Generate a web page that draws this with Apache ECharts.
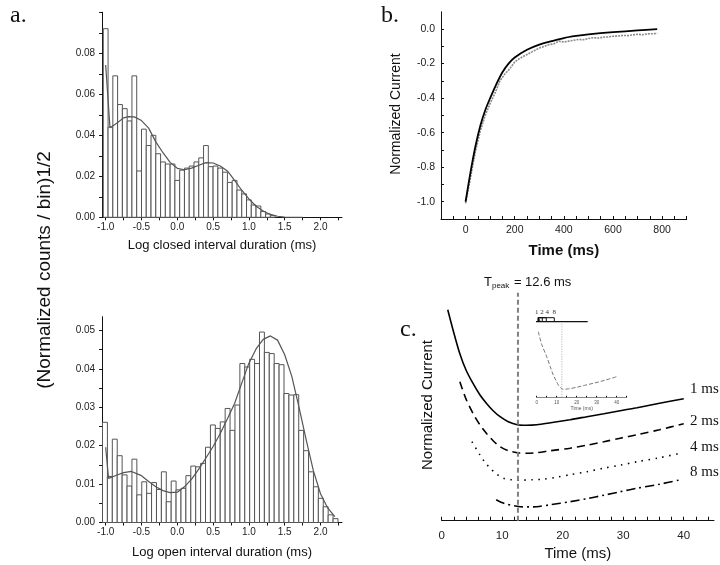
<!DOCTYPE html>
<html>
<head>
<meta charset="utf-8">
<script src="https://cdn.jsdelivr.net/npm/echarts@6/dist/echarts.min.js"></script>
<style>
  html, body { margin: 0; padding: 0; background: #fff; }
  #main { width: 720px; height: 565px; }
</style>
</head>
<body>
<div id="main"></div>
<script>
// ---- panel a: dwell-time histograms (log bins, first bin centred at about -1.0)
const closedBinStart = -1.0;
const closedBinWidth = 1 / 15;
const closedCounts = [0.092, 0.044, 0.069, 0.055, 0.053, 0.047, 0.069, 0.0226, 0.043, 0.035,
  0.040, 0.031, 0.027, 0.026, 0.026, 0.018, 0.023, 0.024, 0.025, 0.027,
  0.029, 0.035, 0.0247, 0.025, 0.024, 0.022, 0.017, 0.018, 0.0133, 0.0114,
  0.0085, 0.006, 0.0055, 0.0028, 0.0016, 0.0008];
const closedFit = [[-1.0, 0.0743], [-0.94, 0.0437], [-0.85, 0.0458], [-0.75, 0.0485], [-0.68, 0.0491],
  [-0.6, 0.049], [-0.5, 0.0472], [-0.4, 0.0435], [-0.3, 0.0368], [-0.2, 0.0315], [-0.1, 0.0268],
  [0.0, 0.0239], [0.1, 0.0232], [0.2, 0.024], [0.3, 0.0254], [0.4, 0.0267], [0.5, 0.0265],
  [0.6, 0.025], [0.7, 0.0226], [0.8, 0.018], [0.9, 0.0132], [1.0, 0.009], [1.1, 0.0054],
  [1.2, 0.0031], [1.3, 0.0014], [1.4, 0.0005], [1.5, 0.0001], [1.75, 0]];

const openBinStart = -1.01;
const openBinWidth = 0.0685;
const openCounts = [0.0261, 0.012, 0.0217, 0.0174, 0.0124, 0.0095, 0.0165, 0.0072, 0.0106, 0.0076,
  0.0104, 0.0086, 0.0132, 0.0054, 0.0108, 0.0085, 0.0089, 0.0122, 0.0147, 0.0145,
  0.0154, 0.0196, 0.0254, 0.0245, 0.0262, 0.0297, 0.024, 0.0306, 0.0414, 0.0405,
  0.0425, 0.0414, 0.0496, 0.0443, 0.044, 0.0414, 0.0411, 0.0336, 0.0332, 0.0333,
  0.024, 0.0187, 0.0132, 0.0093, 0.0063, 0.0041, 0.002, 0.001];
const openFit = [[-1.0, 0.0196], [-0.96, 0.0115], [-0.85, 0.0123], [-0.75, 0.013], [-0.64, 0.0133],
  [-0.5, 0.0122], [-0.4, 0.0107], [-0.3, 0.0093], [-0.2, 0.0083], [-0.1, 0.0078], [0.0, 0.0079],
  [0.1, 0.0093], [0.2, 0.0113], [0.3, 0.0139], [0.4, 0.0168], [0.5, 0.0198], [0.6, 0.0232],
  [0.7, 0.027], [0.8, 0.031], [0.9, 0.0363], [1.0, 0.0415], [1.1, 0.0452], [1.2, 0.0477],
  [1.3, 0.0486], [1.4, 0.0475], [1.5, 0.0437], [1.6, 0.038], [1.7, 0.030], [1.8, 0.0215],
  [1.9, 0.0135], [2.0, 0.0075], [2.1, 0.0038], [2.2, 0.0015]];

const logTicks = [-1, -0.75, -0.5, -0.25, 0, 0.25, 0.5, 0.75, 1, 1.25, 1.5, 1.75, 2, 2.25];
const logLabels = [-1, -0.5, 0, 0.5, 1, 1.5, 2];
const closedYTicks = [0, 0.01, 0.02, 0.03, 0.04, 0.05, 0.06, 0.07, 0.08, 0.09, 0.1];
const closedYLabels = [0, 0.02, 0.04, 0.06, 0.08];
const openYTicks = [0, 0.005, 0.01, 0.015, 0.02, 0.025, 0.03, 0.035, 0.04, 0.045, 0.05];
const openYLabels = [0, 0.01, 0.02, 0.03, 0.04, 0.05];

// ---- panel b: current relaxation, fit and recorded trace
const fitB = [[0, -1.0], [20, -0.83], [40, -0.68], [60, -0.56], [80, -0.47], [100, -0.40],
  [125, -0.32], [150, -0.25], [175, -0.20], [200, -0.165], [250, -0.12], [300, -0.09],
  [350, -0.07], [400, -0.052], [450, -0.04], [500, -0.031], [600, -0.018], [700, -0.008], [780, 0.0]];
const traceB = [[0, -1.01], [20, -0.86], [40, -0.71], [60, -0.59], [80, -0.50], [100, -0.43],
  [120, -0.37], [140, -0.30], [160, -0.26], [180, -0.23], [200, -0.19], [220, -0.17],
  [240, -0.155], [260, -0.14], [280, -0.125], [300, -0.11], [320, -0.10], [340, -0.09],
  [360, -0.085], [380, -0.07], [400, -0.075], [420, -0.07], [440, -0.065], [460, -0.06],
  [480, -0.062], [500, -0.055], [520, -0.05], [540, -0.052], [560, -0.047], [580, -0.045],
  [600, -0.042], [620, -0.04], [640, -0.037], [660, -0.038], [680, -0.034], [700, -0.03],
  [720, -0.033], [740, -0.028], [760, -0.027], [780, -0.025]];
const bXTicks = [-100, -50, 0, 50, 100, 150, 200, 250, 300, 350, 400, 450, 500, 550, 600, 650, 700, 750, 800, 850, 900];
const bXLabels = [0, 200, 400, 600, 800];
const bYTicks = [-1.0, -0.9, -0.8, -0.7, -0.6, -0.5, -0.4, -0.3, -0.2, -0.1, 0.0];
const bYLabels = [-1.0, -0.8, -0.6, -0.4, -0.2, 0.0];

// ---- panel c: responses to 1, 2, 4, 8 ms pulses (arbitrary current units)
const tPeak = 12.6;
const resp1 = [[1.0, 21.1], [2.0, 18.8], [3.0, 16.7], [4.0, 15.1], [5.2, 13.7], [6.3, 12.6], [7.45, 11.7],
  [8.5, 11.0], [9.65, 10.4], [11, 9.9], [12.5, 9.6], [14, 9.55], [15.7, 9.6], [18, 9.8],
  [21.2, 10.1], [24, 10.4], [26.8, 10.7], [29.5, 11.0], [32.3, 11.3], [36, 11.75], [40, 12.2]];
const resp2 = [[3.0, 13.9], [4.0, 12.2], [5.2, 10.7], [6.3, 9.6], [7.45, 8.7], [8.5, 8.0], [9.65, 7.4],
  [11, 7.0], [12.5, 6.8], [14, 6.75], [15.7, 6.8], [18, 7.0], [21.2, 7.25], [24, 7.55],
  [26.8, 7.9], [29.5, 8.25], [32.3, 8.6], [36, 9.1], [40, 9.7]];
const resp4 = [[5.0, 7.9], [6.3, 6.6], [7.2, 5.8], [8.0, 5.25], [9.0, 4.7], [10.2, 4.25], [11.5, 4.1],
  [13.0, 4.05], [15, 4.1], [16.8, 4.15], [19, 4.35], [21.2, 4.6], [24, 4.9], [26.8, 5.25],
  [29.5, 5.55], [32.3, 5.9], [36, 6.3], [39.5, 6.75]];
const resp8 = [[9.0, 2.1], [9.8, 1.85], [10.8, 1.65], [12, 1.5], [13, 1.4], [14.5, 1.38], [15.7, 1.4],
  [18, 1.6], [21.2, 1.9], [24, 2.2], [26.8, 2.55], [29.5, 2.9], [32.3, 3.25], [36, 3.65], [39.5, 4.1]];
const respNames = ['1 ms', '2 ms', '4 ms', '8 ms'];
const cXTicks = [0, 2, 4, 6, 8, 10, 12, 14, 16, 18, 20, 22, 24, 26, 28, 30, 32, 34, 36, 38, 40, 42, 44];
const cXLabels = [0, 10, 20, 30, 40];

// inset: stimulus pulses and averaged trace
const pulseOnset = 0.8;
const pulseDurations = [1, 2, 4, 8];
const insetTrace = [[0.8, 6.56], [2.5, 5.3], [5, 4.06], [6.7, 3.1], [8.3, 2.23], [10, 1.55], [10.8, 1.23],
  [12, 0.95], [13.3, 0.8], [16, 0.85], [20, 1.0], [24, 1.2], [28.3, 1.4], [34, 1.7], [40, 2.06]];
const insetTicks = [0, 5, 10, 15, 20, 25, 30, 35, 40, 45];
const insetLabels = [0, 10, 20, 30, 40];

const sans = 'Liberation Sans, Arial, sans-serif';
const serif = 'Liberation Serif, Times New Roman, serif';

function bins(start, width, counts) {
  return counts.map((v, k) => [start + k * width, v]);
}

function histBar(width) {
  return function (params, api) {
    const x = api.value(0);
    const top = api.coord([x - width / 2, api.value(1)]);
    const base = api.coord([x + width / 2, 0]);
    return {
      type: 'rect',
      shape: { x: top[0], y: top[1], width: base[0] - top[0], height: base[1] - top[1] },
      style: { fill: '#fff', stroke: '#555', lineWidth: 1 }
    };
  };
}

function fmt(d) {
  return v => (Math.abs(v) < 1e-9 ? 0 : v).toFixed(d);
}

function valAxis(grid, min, max, ticks, labels, extra) {
  return Object.assign({
    type: 'value', gridIndex: grid, min: min, max: max,
    splitLine: { show: false },
    axisLine: { show: true, onZero: false, lineStyle: { color: '#111', width: 1 } },
    axisTick: { show: true, customValues: ticks, length: 3, lineStyle: { color: '#111' } },
    axisLabel: { customValues: labels, color: '#222', fontFamily: sans, fontSize: 10 }
  }, extra || {});
}

const chart = echarts.init(document.getElementById('main'));

const pulseSeries = pulseDurations.map(d => ({
  type: 'line', xAxisIndex: 4, yAxisIndex: 4, symbol: 'none', silent: true, clip: false,
  lineStyle: { color: '#111', width: 1 },
  data: [[pulseOnset, 7.56], [pulseOnset, 7.96], [pulseOnset + d, 7.96], [pulseOnset + d, 7.56]]
}));

chart.setOption({
  animation: false,
  grid: [
    { left: 102.1, top: 12.3, width: 239.9, height: 205 },
    { left: 102.1, top: 316.7, width: 239.9, height: 205.8 },
    { left: 441, top: 11.8, width: 245.7, height: 207.2 },
    { left: 441.7, top: 280.7, width: 272.3, height: 240 },
    { left: 536.7, top: 310, width: 90, height: 87.3 }
  ],
  xAxis: [
    valAxis(0, -1.05, 2.3, logTicks, logLabels, {
      name: 'Log closed interval duration (ms)', nameLocation: 'middle', nameGap: 22,
      nameTextStyle: { fontFamily: sans, fontSize: 13, color: '#111' }
    }),
    valAxis(1, -1.05, 2.3, logTicks, logLabels, {
      name: 'Log open interval duration (ms)', nameLocation: 'middle', nameGap: 23,
      nameTextStyle: { fontFamily: sans, fontSize: 13, color: '#111' }
    }),
    valAxis(2, -100, 900, bXTicks, bXLabels, {
      name: 'Time (ms)', nameLocation: 'middle', nameGap: 24,
      nameTextStyle: { fontFamily: sans, fontSize: 15, fontWeight: 'bold', color: '#111' }
    }),
    valAxis(3, 0, 45, cXTicks, cXLabels, {
      name: 'Time (ms)', nameLocation: 'middle', nameGap: 26,
      nameTextStyle: { fontFamily: sans, fontSize: 15, color: '#111' }
    }),
    valAxis(4, 0, 45, insetTicks, insetLabels, {
      name: 'Time (ms)', nameLocation: 'middle', nameGap: 7,
      nameTextStyle: { fontFamily: sans, fontSize: 5, color: '#555' }
    })
  ],
  yAxis: [
    valAxis(0, 0, 0.1, closedYTicks, closedYLabels),
    valAxis(1, 0, 0.0536, openYTicks, openYLabels),
    valAxis(2, -1.1, 0.1, bYTicks, bYLabels),
    valAxis(3, 0, 24, [], [], { show: false }),
    valAxis(4, 0, 8.73, [], [], { show: false })
  ],
  series: [
    { type: 'custom', xAxisIndex: 0, yAxisIndex: 0, renderItem: histBar(closedBinWidth),
      data: bins(closedBinStart, closedBinWidth, closedCounts) },
    { type: 'line', xAxisIndex: 0, yAxisIndex: 0, data: closedFit, symbol: 'none', z: 5,
      lineStyle: { color: '#555', width: 1.2 } },
    { type: 'custom', xAxisIndex: 1, yAxisIndex: 1, renderItem: histBar(openBinWidth),
      data: bins(openBinStart, openBinWidth, openCounts) },
    { type: 'line', xAxisIndex: 1, yAxisIndex: 1, data: openFit, symbol: 'none', z: 5,
      lineStyle: { color: '#555', width: 1.2 } },
    { type: 'line', xAxisIndex: 2, yAxisIndex: 2, data: traceB, symbol: 'none',
      lineStyle: { color: '#8a8a8a', width: 1.6, type: [2, 1] } },
    { type: 'line', xAxisIndex: 2, yAxisIndex: 2, data: fitB, symbol: 'none', smooth: 0.3, z: 5,
      lineStyle: { color: '#000', width: 1.8 } },
    { name: respNames[0], type: 'line', xAxisIndex: 3, yAxisIndex: 3, data: resp1, symbol: 'none', smooth: 0.3,
      lineStyle: { color: '#000', width: 1.6 } },
    { name: respNames[1], type: 'line', xAxisIndex: 3, yAxisIndex: 3, data: resp2, symbol: 'none', smooth: 0.3,
      lineStyle: { color: '#000', width: 1.6, type: [8, 5] } },
    { name: respNames[2], type: 'line', xAxisIndex: 3, yAxisIndex: 3, data: resp4, symbol: 'none', smooth: 0.3,
      lineStyle: { color: '#000', width: 1.6, type: [1.5, 5.5] } },
    { name: respNames[3], type: 'line', xAxisIndex: 3, yAxisIndex: 3, data: resp8, symbol: 'none', smooth: 0.3,
      lineStyle: { color: '#000', width: 1.6, type: [9, 4, 2, 4] } },
    { type: 'line', xAxisIndex: 3, yAxisIndex: 3, data: [[tPeak, 0], [tPeak, 22.8]], symbol: 'none', z: 6,
      lineStyle: { color: '#808080', width: 2, type: [5, 3] } },
    { type: 'line', xAxisIndex: 4, yAxisIndex: 4, data: insetTrace, symbol: 'none', smooth: 0.3,
      lineStyle: { color: '#777', width: 1, type: [4, 2] } },
    { type: 'line', xAxisIndex: 4, yAxisIndex: 4, data: [[tPeak, 0], [tPeak, 7.43]], symbol: 'none',
      lineStyle: { color: '#999', width: 0.8, type: [1, 1.5] } },
    { type: 'line', xAxisIndex: 4, yAxisIndex: 4, data: [[-1.3, 7.56], [25.5, 7.56]], symbol: 'none', clip: false,
      lineStyle: { color: '#111', width: 1.2 } }
  ].concat(pulseSeries),
  graphic: [
    { type: 'text', x: 10, y: 4, style: { text: 'a.', fontFamily: serif, fontSize: 24, fill: '#111' } },
    { type: 'text', x: 381, y: 4, style: { text: 'b.', fontFamily: serif, fontSize: 24, fill: '#111' } },
    { type: 'text', x: 400, y: 318, style: { text: 'c.', fontFamily: serif, fontSize: 24, fill: '#111' } },
    { type: 'text', x: 45, y: 270, rotation: Math.PI / 2,
      style: { text: '(Normalized counts / bin)1/2', fontFamily: sans, fontSize: 19, fill: '#111',
        align: 'center', verticalAlign: 'middle' } },
    { type: 'text', x: 396, y: 114, rotation: Math.PI / 2,
      style: { text: 'Normalized Current', fontFamily: sans, fontSize: 14, fill: '#111',
        align: 'center', verticalAlign: 'middle' } },
    { type: 'text', x: 428, y: 405, rotation: Math.PI / 2,
      style: { text: 'Normalized Current', fontFamily: sans, fontSize: 15, fill: '#111',
        align: 'center', verticalAlign: 'middle' } },
    { type: 'text', x: 484, y: 282,
      style: { text: '{t|T}{s|peak}{t| = ' + tPeak + ' ms}', verticalAlign: 'middle', fill: '#111',
        rich: { t: { fontFamily: sans, fontSize: 13, fill: '#111' },
          s: { fontFamily: sans, fontSize: 8, fill: '#111', padding: [8, 1, 0, 0] } } } },
    { type: 'text', x: 690, y: 389, style: { text: respNames[0], fontFamily: serif, fontSize: 15, fill: '#111', verticalAlign: 'middle' } },
    { type: 'text', x: 690, y: 420.7, style: { text: respNames[1], fontFamily: serif, fontSize: 15, fill: '#111', verticalAlign: 'middle' } },
    { type: 'text', x: 690, y: 447.3, style: { text: respNames[2], fontFamily: serif, fontSize: 15, fill: '#111', verticalAlign: 'middle' } },
    { type: 'text', x: 690, y: 472.3, style: { text: respNames[3], fontFamily: serif, fontSize: 15, fill: '#111', verticalAlign: 'middle' } },
    { type: 'text', x: 535, y: 312.5,
      style: { text: pulseDurations.join(' ').replace(' 8', '  8'), fontFamily: serif, fontSize: 7, fill: '#333', verticalAlign: 'middle' } }
  ]
});

// label formatting per axis
chart.setOption({
  xAxis: [
    { axisLabel: { formatter: fmt(1), margin: 5 } },
    { axisLabel: { formatter: fmt(1), margin: 5 } },
    { axisTick: { inside: true }, axisLabel: { formatter: fmt(0), fontSize: 10.5, margin: 6 } },
    { axisTick: { inside: true, length: 4 }, axisLabel: { formatter: fmt(0), fontSize: 11.5, margin: 9 } },
    { axisTick: { inside: true, length: 1.5 }, axisLine: { lineStyle: { width: 0.7, color: '#555' } },
      axisLabel: { formatter: fmt(0), fontSize: 4.5, margin: 3, color: '#555' } }
  ],
  yAxis: [
    { axisLabel: { formatter: fmt(2), margin: 7 } },
    { axisLabel: { formatter: fmt(2), margin: 7 } },
    { axisTick: { inside: true }, axisLabel: { formatter: fmt(1), fontSize: 10.5, margin: 6 } },
    {},
    {}
  ]
});
</script>
</body>
</html>
